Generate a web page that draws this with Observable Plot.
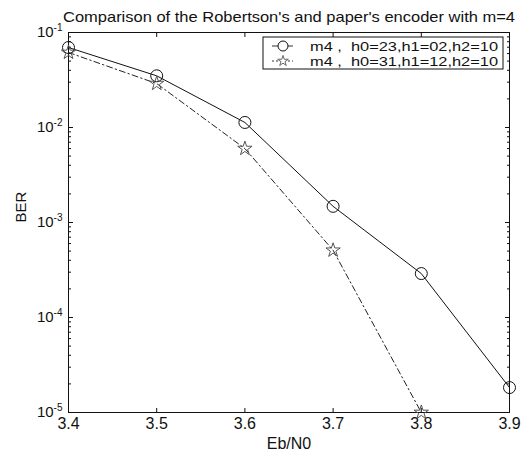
<!DOCTYPE html>
<html><head><meta charset="utf-8">
<script src="https://cdn.jsdelivr.net/npm/d3@7"></script>
<script src="https://cdn.jsdelivr.net/npm/@observablehq/plot@0.6"></script>
<style>
body{margin:0;background:#fff;}
svg{font-family:"Liberation Sans",Arial,sans-serif;}
</style>
</head><body>
<div id="chart"></div>
<script>
const ebn0 = [3.4, 3.5, 3.6, 3.7, 3.8, 3.9];
const berA = [0.0695, 0.035, 0.0113, 0.00148, 0.00029, 0.0000183];
const ebn0B = [3.4, 3.5, 3.6, 3.7, 3.8];
const berB = [0.0616, 0.029, 0.006, 0.00051, 0.00001];
const labelA = "m4 ,  h0=23,h1=02,h2=10";
const labelB = "m4 ,  h0=31,h1=12,h2=10";
const titleText = "Comparison of the Robertson's and paper's encoder with m=4";
const xTicks = [3.4, 3.5, 3.6, 3.7, 3.8, 3.9];
const yMajor = [1e-5, 1e-4, 1e-3, 1e-2, 1e-1];
const yExp = ["-5", "-4", "-3", "-2", "-1"];

const dataA = ebn0.map((x, i) => ({x, y: berA[i]}));
const dataB = ebn0B.map((x, i) => ({x, y: berB[i]}));
const yMinor = [];
for (let d = -5; d < -1; d++) for (let k = 2; k <= 9; k++) yMinor.push(k * Math.pow(10, d));

const plot = Plot.plot({
  width: 526, height: 459,
  marginLeft: 68, marginRight: 17, marginTop: 32, marginBottom: 47,
  style: {fontFamily: '"Liberation Sans", Arial, sans-serif', fontSize: "13px", background: "#fff", color: "#111"},
  x: {domain: [3.4, 3.9]},
  y: {type: "log", domain: [1e-5, 1e-1]},
  marks: [
    Plot.frame({stroke: "#111", strokeWidth: 1}),
    Plot.axisX({ticks: xTicks, tickSize: -4, tickFormat: d3.format(".1f"), tickPadding: 9, fontSize: 16, label: null}),
    Plot.axisX({anchor: "top", ticks: xTicks, tickSize: -4, tickFormat: () => "", label: null}),
    Plot.axisY({ticks: yMajor, tickSize: -5, tickPadding: 11, tickFormat: (d) => "10^" + yExp[yMajor.indexOf(d)], fontSize: 15, label: null}),
    Plot.axisY({ticks: yMinor, tickSize: -3, tickFormat: () => "", label: null}),
    Plot.axisY({anchor: "right", ticks: yMajor, tickSize: -5, tickFormat: () => "", label: null}),
    Plot.axisY({anchor: "right", ticks: yMinor, tickSize: -3, tickFormat: () => "", label: null}),
    Plot.line(dataA, {x: "x", y: "y", stroke: "#111", strokeWidth: 1}),
    Plot.dot(dataA, {x: "x", y: "y", r: 6, stroke: "#111", fill: "none", strokeWidth: 1}),
    Plot.line(dataB, {x: "x", y: "y", stroke: "#222", strokeWidth: 1, strokeDasharray: "6,3,1.5,3"}),
    Plot.dot(dataB, {x: "x", y: "y", r: 4.5, symbol: "star", stroke: "#555", fill: "none", strokeWidth: 1}),
    Plot.text([titleText], {frameAnchor: "top", dy: -21, fontSize: 14.5, fill: "#111"}),
    Plot.text(["Eb/N0"], {frameAnchor: "bottom", dy: 36, fontSize: 16, fill: "#111"}),
    Plot.text(["BER"], {frameAnchor: "left", dx: -47, rotate: -90, fontSize: 15, fill: "#111"})
  ]
});

const svg = d3.select(plot);
// superscript exponents
svg.selectAll("text").each(function() {
  const t = d3.select(this);
  const s = t.text();
  if (/^10\^/.test(s)) {
    const e = s.slice(3);
    t.text("10");
    t.append("tspan").attr("dy", "-0.6em").attr("font-size", "10px").text(e);
  }
  if (s === titleText) {
    t.attr("textLength", 452).attr("lengthAdjust", "spacingAndGlyphs");
  }
});

// legend box
const g = svg.append("g").attr("text-anchor", "start");
const lx = 263, ly = 37, lw = 240, lh = 32;
g.append("rect").attr("x", lx).attr("y", ly).attr("width", lw).attr("height", lh)
  .attr("fill", "#fff").attr("stroke", "#111");
const rows = [
  {label: labelA, dash: null, sym: "circle"},
  {label: labelB, dash: "2,2", sym: "star"}
];
rows.forEach((r, i) => {
  const cy = ly + 9 + i * 15;
  g.append("line").attr("x1", lx + 9).attr("x2", lx + 30).attr("y1", cy).attr("y2", cy)
    .attr("stroke", "#333").attr("stroke-dasharray", r.dash);
  if (r.sym === "circle") {
    g.append("circle").attr("cx", lx + 20).attr("cy", cy).attr("r", 5).attr("fill", "#fff").attr("stroke", "#111");
  } else {
    g.append("path").attr("d", d3.symbol(d3.symbolStar, 35)()).attr("transform", `translate(${lx + 20},${cy})`)
      .attr("fill", "#fff").attr("stroke", "#666");
  }
  g.append("text").attr("x", lx + 47).attr("y", cy).attr("dy", "0.35em").attr("font-size", 13.5).attr("fill", "#111")
    .attr("textLength", 188).attr("lengthAdjust", "spacingAndGlyphs").text(r.label);
});

document.getElementById("chart").append(plot);
</script>
</body></html>
